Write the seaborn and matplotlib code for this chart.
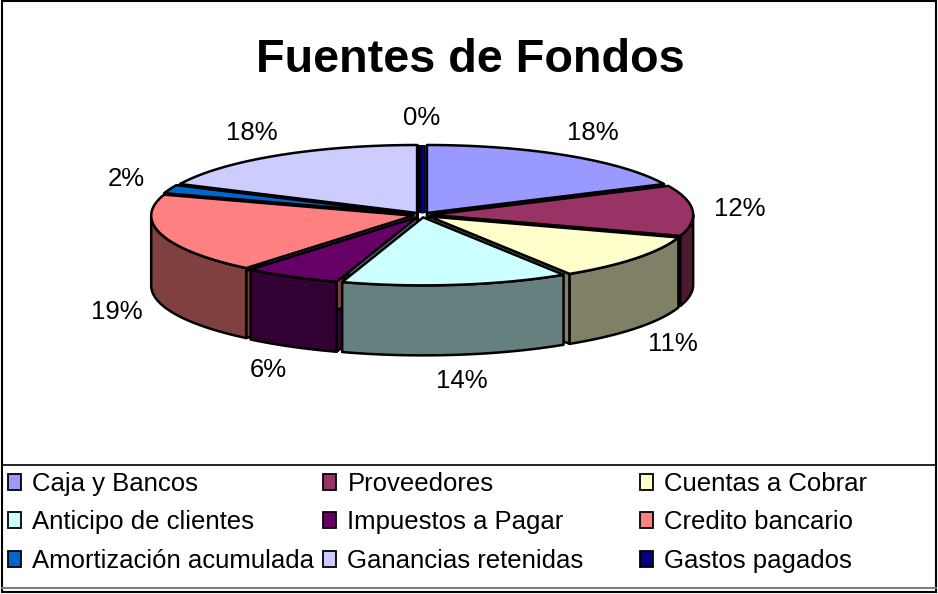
import numpy as np
import matplotlib
matplotlib.use("Agg")
import matplotlib.pyplot as plt
import seaborn as sns
from matplotlib.patches import Polygon, Patch, Rectangle

# --- Data ---
categories = ["Caja y Bancos", "Proveedores", "Cuentas a Cobrar",
              "Anticipo de clientes", "Impuestos a Pagar", "Credito bancario",
              "Amortización acumulada", "Ganancias retenidas", "Gastos pagados"]
percent = [18, 12, 11, 14, 6, 19, 2, 18, 0]
top_colors = ["#9999FF", "#993366", "#FFFFCC", "#CCFFFF", "#660066",
              "#FF8080", "#0066CC", "#CCCCFF", "#000080"]

# --- Style ---
sns.set_theme(style="white")
plt.rcParams['font.family'] = ['Liberation Sans', 'DejaVu Sans']
plt.rcParams['text.color'] = 'black'
palette = sns.color_palette(top_colors)
side_palette = [tuple(c * 0.5 for c in col) for col in palette]

fig = plt.figure(figsize=(9.38, 5.94), dpi=100)
ax = fig.add_axes([0, 0, 1, 1])
ax.set_xlim(0, 938)
ax.set_ylim(594, 0)
ax.axis('off')

# pie geometry (pixel space)
cx, cy = 422, 215
rx, ry = 262, 68
depth = 70
explode = 0.035
lw = 1.8


def rim(theta, ox, oy, dz=0.0, r=1.0):
    t = np.radians(theta)
    return np.column_stack([cx + ox + rx * r * np.cos(t),
                            cy + oy - ry * r * np.sin(t) + dz])


fracs = np.array(percent) / sum(percent)
starts = 90 - 360 * np.concatenate([[0], np.cumsum(fracs)[:-1]])
ends = starts - 360 * fracs

faces, walls, tops = [], [], []
for i, (a2, a1) in enumerate(zip(starts, ends)):
    mid = (a1 + a2) / 2
    ox = explode * rx * np.cos(np.radians(mid))
    oy = -explode * ry * np.sin(np.radians(mid))
    center = np.array([[cx + ox, cy + oy]])
    if a2 - a1 < 1e-6:
        continue
    arc = rim(np.linspace(a2, a1, 80), ox, oy)
    tops.append((np.vstack([center, arc]), palette[i]))
    # outer wall on the front half
    lo, hi = max(a1, -180), min(a2, 0)
    if hi > lo:
        th = np.linspace(hi, lo, 80)
        walls.append((np.vstack([rim(th, ox, oy), rim(th[::-1], ox, oy, depth)]),
                      side_palette[i]))
    # radial cut faces that look toward the viewer
    for th, vis in ((a1, np.cos(np.radians(a1)) > 0), (a2, np.cos(np.radians(a2)) < 0)):
        if vis:
            p = rim([th], ox, oy)[0]
            faces.append((np.array([center[0], p, p + [0, depth], center[0] + [0, depth]]),
                          side_palette[i]))

for group in (faces, walls, tops):
    for pts, col in group:
        ax.add_patch(Polygon(pts, closed=True, facecolor=col, edgecolor='black',
                             linewidth=lw, joinstyle='round'))

# zero-size slices drawn as a thin line
for i, (a2, a1) in enumerate(zip(starts, ends)):
    if a2 - a1 < 1e-6:
        mid = a2
        ox = explode * rx * np.cos(np.radians(mid))
        oy = -explode * ry * np.sin(np.radians(mid))
        p = rim([mid], ox, oy)[0]
        ax.plot([cx + ox, p[0]], [cy + oy, p[1]], color='black', lw=5.5, solid_capstyle='butt')
        ax.plot([cx + ox, p[0]], [cy + oy, p[1]], color=palette[i], lw=2.5, solid_capstyle='butt')

# percentage labels
for i, (a2, a1) in enumerate(zip(starts, ends)):
    mid = np.radians((a1 + a2) / 2)
    lx = cx + 318 * np.cos(mid)
    ly = cy - 97 * np.sin(mid) + (depth if np.sin(mid) < -1e-9 else 0)
    ax.text(lx, ly, f"{percent[i]}%", fontsize=18.5, ha='center', va='center')

ax.text(470, 72, "Fuentes de Fondos", fontsize=33.7, fontweight='bold',
        ha='center', va='baseline')

# chart frame and legend box
ax.add_patch(Rectangle((2, 1), 933.5, 591, fill=False, edgecolor='black', lw=1.5))
ax.plot([2, 935.5], [465, 465], color='black', lw=1.2)
ax.plot([2, 935.5], [588, 588], color='#808080', lw=1.5)

# legend: three equal-width columns, row-major order like the original
col_x = [8, 323, 640]
for c in range(3):
    idx = [c, c + 3, c + 6]
    handles = [Patch(facecolor=palette[k], edgecolor='black', linewidth=1.3) for k in idx]
    leg = ax.legend(handles, [categories[k] for k in idx], loc='upper left',
                    bbox_to_anchor=(col_x[c], 472), bbox_transform=ax.transData,
                    frameon=False, fontsize=18.5, borderpad=0, borderaxespad=0,
                    handlelength=0.5, handleheight=0.58, handletextpad=0.45,
                    labelspacing=0.56, labelcolor='black')
    if c < 2:
        ax.add_artist(leg)

fig.savefig("out.png", dpi=100)
plt.close(fig)
